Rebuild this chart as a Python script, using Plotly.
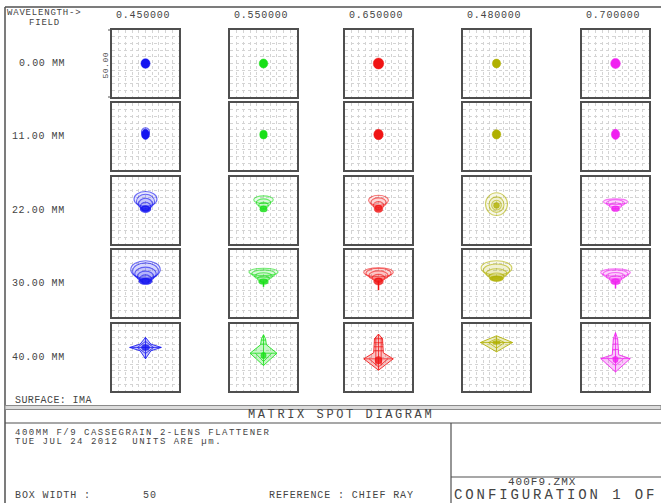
import plotly.graph_objects as go

# ---------------- data ----------------
WAVELENGTHS = ["0.450000", "0.550000", "0.650000", "0.480000", "0.700000"]
FIELDS = ["0.00 MM", "11.00 MM", "22.00 MM", "30.00 MM", "40.00 MM"]
COLORS = ["#1414f0", "#18e018", "#f01414", "#b0b000", "#f020f0"]
BOX_WIDTH_UM = 50

# dense core of each spot: (y centre, x radius, y radius) in um, x centre = chief ray
CORE_0MM = [(0.0, 3.4, 3.6), (0.0, 3.2, 3.4), (0.0, 3.9, 4.1), (0.0, 3.1, 3.3), (0.0, 3.6, 3.8)]
CORE_11MM = [(1.6, 3.0, 3.8), (1.4, 2.8, 3.2), (1.5, 3.5, 3.9), (1.6, 3.2, 3.5), (1.6, 3.1, 3.8)]
CORE_22MM = [(1.0, 4.0, 2.6), (1.0, 2.8, 2.2), (1.2, 3.2, 2.6), (3.8, 2.2, 2.2), (1.2, 3.0, 2.0)]
CORE_30MM = [(1.6, 5.0, 2.4), (1.2, 3.6, 1.8), (1.5, 3.6, 2.6), (3.6, 5.2, 2.0), (1.4, 3.6, 2.2)]
CORE_40MM = [(7.5, 3.0, 2.2), (1.5, 2.0, 2.4), (-2.0, 2.6, 2.8), (11.2, 3.0, 1.4), (-1.5, 2.0, 2.4)]

# comatic ring arcs of each spot: (y centre, x radius, y radius) in um
RINGS_0MM = [[], [], [], [], []]
RINGS_11MM = [[(3.6, 3.0, 2.8)], [], [], [], []]
RINGS_22MM = [
    [(1.5, 2.5, 2.0), (3.0, 3.8, 3.2), (4.8, 5.2, 4.3), (6.8, 6.8, 5.3), (8.6, 8.6, 5.6)],
    [(2.0, 2.2, 1.6), (3.8, 3.6, 2.3), (5.8, 5.4, 2.9), (8.0, 7.3, 2.9)],
    [(2.0, 2.2, 1.8), (3.8, 3.8, 2.8), (5.8, 5.8, 3.6), (7.6, 7.4, 3.8)],
    [(4.0, 3.6, 3.6), (4.4, 5.6, 5.8), (4.8, 8.2, 8.5)],
    [(1.8, 2.6, 1.6), (3.6, 4.6, 2.2), (5.4, 6.8, 2.6), (6.6, 9.0, 2.1)],
]
RINGS_30MM = [
    [(1.8, 2.6, 2.0), (3.4, 4.4, 3.0), (5.2, 6.2, 4.0), (7.2, 8.0, 5.0), (9.2, 9.6, 6.2), (10.4, 11.0, 6.6)],
    [(2.0, 2.4, 1.4), (3.6, 4.4, 2.0), (5.4, 6.6, 2.6), (7.2, 8.8, 3.0), (8.6, 10.8, 2.8)],
    [(2.4, 2.4, 1.6), (4.2, 4.8, 2.6), (6.0, 7.2, 3.4), (7.6, 9.4, 3.8), (8.4, 11.0, 3.4)],
    [(3.4, 3.4, 1.6), (5.2, 5.6, 2.6), (7.4, 7.8, 3.6), (9.8, 9.8, 4.8), (11.6, 11.5, 5.4)],
    [(1.8, 2.2, 1.4), (3.6, 4.6, 2.2), (5.4, 7.0, 2.8), (7.0, 9.4, 3.2), (8.2, 11.0, 2.8)],
]
# downward tails of the 30 mm spots: (y top, y bottom) in um
TAILS_30MM = [None, (1.0, -2.5), (2.0, -5.0), None, (1.0, -3.7)]

# outlines of the 40 mm spots (um)
OUTLINE_40MM_X = [
    [0, 4, 11.8, 4, 0, -4, -11.8, -4, 0],
    [0, 1.5, 2.2, 10, 0, -10, -2.2, -1.5, 0],
    [0, 3, 3.6, 11, 0, -11, -3.6, -3, 0],
    [0, 12, 0, -12, 0],
    [0, 1.6, 2.4, 11, 0, -11, -2.4, -1.6, 0],
]
OUTLINE_40MM_Y = [
    [15, 10, 7.5, 5, -1, 5, 7.5, 10, 15],
    [17, 14, 9.5, 3.2, -6, 3.2, 9.5, 14, 17],
    [17.5, 14, 3.5, -1, -9.5, -1, 3.5, 14, 17.5],
    [16.2, 11.2, 4.2, 11.2, 16.2],
    [18.6, 14, 2, -0.8, -10.8, -0.8, 2, 14, 18.6],
]
# interior ray-fan strokes of the 40 mm spots: (x0, y0, x1, y1) in um
STROKES_40MM = [
    [(0, 15, 0, -1), (-11.8, 7.5, 11.8, 7.5), (0, 12, 6, 7.5), (6, 7.5, 0, 3), (0, 3, -6, 7.5), (-6, 7.5, 0, 12)],
    [(0, 17, 0, -6), (-1.6, 13, 1.6, 13), (-2, 10, 2, 10), (-10, 3.2, 10, 3.2), (-6, 3.2, 0, -3), (6, 3.2, 0, -3)],
    [(0, 17.5, 0, -9.5), (-2, 15, -2, -6), (2, 15, 2, -6), (-3.2, 14, 3.2, 14), (-3.3, 11, 3.3, 11),
     (-3.4, 8, 3.4, 8), (-3.5, 5, 3.5, 5), (-11, -1, 11, -1), (-7, -1, 0, -7), (7, -1, 0, -7)],
    [(0, 16.2, 0, 4.2), (-12, 11.2, 12, 11.2), (0, 14, 6, 11.2), (6, 11.2, 0, 7), (0, 7, -6, 11.2), (-6, 11.2, 0, 14)],
    [(0, 18.6, 0, -10.8), (-1.5, 14, 1.5, 14), (-1.8, 10, 1.8, 10), (-2.1, 6, 2.1, 6), (-11, -0.8, 11, -0.8),
     (-6, -0.8, 0, -6), (6, -0.8, 0, -6)],
]

# ---------------- layout constants (pixels) ----------------
W_PX, H_PX = 661, 503
BOX_LEFT = [112, 230, 345, 463, 582]
BOX_TOP = [30, 103, 177, 250, 324]
BOX_SIZE = 67
TEXT_COLOR = "#444444"
FONT = "Liberation Mono"


def px(x):
    return x / W_PX


def py(y):
    return 1 - y / H_PX


def rgba(hex_color, a):
    h = hex_color.lstrip("#")
    r, g, b = int(h[0:2], 16), int(h[2:4], 16), int(h[4:6], 16)
    return f"rgba({r},{g},{b},{a})"


fig = go.Figure()
shapes = []
annotations = []
layout_axes = {}

CORES = [CORE_0MM, CORE_11MM, CORE_22MM, CORE_30MM, CORE_40MM]
RINGS = [RINGS_0MM, RINGS_11MM, RINGS_22MM, RINGS_30MM, None]

half = BOX_WIDTH_UM / 2
k = 0
for r in range(len(FIELDS)):
    for c in range(len(WAVELENGTHS)):
        k += 1
        xa = "x" if k == 1 else f"x{k}"
        ya = "y" if k == 1 else f"y{k}"
        axis_common = dict(
            range=[-half, half], tick0=0, dtick=5, showgrid=True, gridcolor="#d4d4d4",
            griddash="dot", gridwidth=1, zeroline=False, showticklabels=False, ticks="",
            showline=True, mirror=True, linecolor="#4f4f4f", linewidth=2, fixedrange=True,
        )
        layout_axes["xaxis" if k == 1 else f"xaxis{k}"] = dict(
            axis_common, domain=[px(BOX_LEFT[c]), px(BOX_LEFT[c] + BOX_SIZE)], anchor=ya)
        layout_axes["yaxis" if k == 1 else f"yaxis{k}"] = dict(
            axis_common, domain=[py(BOX_TOP[r] + BOX_SIZE), py(BOX_TOP[r])], anchor=xa)

        col = COLORS[c]
        fig.add_trace(go.Scatter(x=[None], y=[None], xaxis=xa, yaxis=ya, hoverinfo="skip"))

        if RINGS[r] is not None:
            for (yc, rx, ry) in RINGS[r][c]:
                shapes.append(dict(type="circle", xref=xa, yref=ya, x0=-rx, x1=rx, y0=yc - ry, y1=yc + ry,
                                   line=dict(color=rgba(col, 0.6), width=1.1), fillcolor=rgba(col, 0.09),
                                   layer="above"))
        if r == 3 and TAILS_30MM[c] is not None:
            yt, yb = TAILS_30MM[c]
            fig.add_trace(go.Scatter(x=[0, 0], y=[yt, yb], mode="lines", xaxis=xa, yaxis=ya,
                                     line=dict(color=col, width=1.5), hoverinfo="skip"))
        if r == 4:
            fig.add_trace(go.Scatter(x=OUTLINE_40MM_X[c], y=OUTLINE_40MM_Y[c], mode="lines", fill="toself",
                                     fillcolor=rgba(col, 0.25), line=dict(color=rgba(col, 0.85), width=1),
                                     xaxis=xa, yaxis=ya, hoverinfo="skip"))
            for (x0, y0, x1, y1) in STROKES_40MM[c]:
                fig.add_trace(go.Scatter(x=[x0, x1], y=[y0, y1], mode="lines", xaxis=xa, yaxis=ya,
                                         line=dict(color=rgba(col, 0.75), width=1), hoverinfo="skip"))
        yc, rx, ry = CORES[r][c]
        core_alpha = 1.0 if r < 2 else 0.8
        shapes.append(dict(type="circle", xref=xa, yref=ya, x0=-rx, x1=rx, y0=yc - ry, y1=yc + ry,
                           line=dict(color=rgba(col, core_alpha), width=0.5),
                           fillcolor=rgba(col, core_alpha), layer="above"))


def label(text, x, y, size=10, anchor="left", spacing=0.8, angle=0):
    annotations.append(dict(
        text=f'<span style="letter-spacing:{spacing}px">{text}</span>',
        x=px(x), y=py(y), xref="paper", yref="paper", xanchor=anchor, yanchor="middle",
        showarrow=False, textangle=angle, borderpad=0,
        font=dict(family=FONT, size=size, color=TEXT_COLOR)))


# header texts
label("WAVELENGTH->", 6, 13, size=9, spacing=0.8)
label("FIELD", 44, 23.5, size=9, anchor="center", spacing=0.8)
for c, wl in enumerate(WAVELENGTHS):
    label(wl, BOX_LEFT[c] + BOX_SIZE / 2 - 3, 15, size=10, anchor="center", spacing=0.8)
for r, f in enumerate(FIELDS):
    label(f, 66, BOX_TOP[r] + BOX_SIZE / 2, size=10, anchor="right", spacing=0.6)
label(f"{BOX_WIDTH_UM:.2f}", 105, BOX_TOP[0] + BOX_SIZE / 2 + 2, size=8, anchor="center", spacing=0.5, angle=-90)

# footer texts
label("SURFACE: IMA", 14, 400, size=10, spacing=0.4)
label("MATRIX SPOT DIAGRAM", 341, 415, size=12, anchor="center", spacing=2.6)
label("400MM F/9 CASSEGRAIN 2-LENS FLATTENER", 14, 432.5, size=9, spacing=1.5)
label("TUE JUL 24 2012  UNITS ARE &#181;m.", 14, 442, size=9, spacing=1.5)
label("BOX WIDTH :", 14, 495, size=10, spacing=0.9)
label(f"{BOX_WIDTH_UM}", 142, 495, size=10, spacing=0.9)
label("REFERENCE : CHIEF RAY", 268, 495, size=10, spacing=0.9)
label("400F9.ZMX", 542, 482, size=11, anchor="center", spacing=1.0)
label("CONFIGURATION 1 OF 1", 453, 495, size=14, spacing=2.9)


def pline(x0, y0, x1, y1, color="#505050", width=1):
    shapes.append(dict(type="line", xref="paper", yref="paper", x0=px(x0), y0=py(y0), x1=px(x1), y1=py(y1),
                       line=dict(color=color, width=width)))


pline(5, 7, 661, 7, width=1.5)
pline(5, 7, 5, 503, width=1.5)
shapes.append(dict(type="rect", xref="paper", yref="paper", x0=px(5), x1=px(661), y0=py(409.5), y1=py(405.5),
                   line=dict(color="#8a8a8a", width=1), fillcolor="#dcdcdc"))
pline(5, 423, 661, 423, width=1.2)
pline(451, 423, 451, 503, width=1.2)
pline(451, 477, 661, 477, width=1.2)
pline(108, BOX_TOP[0], 112, BOX_TOP[0], width=1)
pline(108, BOX_TOP[0] + BOX_SIZE, 112, BOX_TOP[0] + BOX_SIZE, width=1)

fig.update_layout(
    width=W_PX, height=H_PX, margin=dict(l=0, r=0, t=0, b=0),
    paper_bgcolor="white", plot_bgcolor="white", showlegend=False,
    shapes=shapes, annotations=annotations, **layout_axes,
)

fig.write_html(
    "out.html",
    config={"displayModeBar": False},
    post_script="document.body.style.margin='0';document.body.style.padding='0';"
                "document.body.style.overflow='hidden';",
)
